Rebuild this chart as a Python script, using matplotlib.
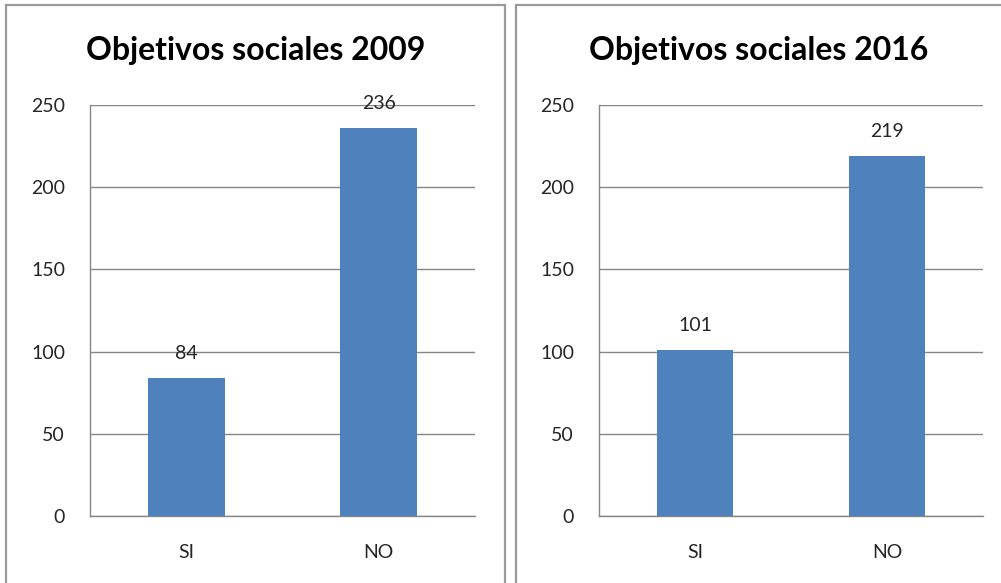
import matplotlib
matplotlib.use("Agg")
import matplotlib.pyplot as plt
from matplotlib.patches import Rectangle

categories = ["SI", "NO"]
values_2009 = [84, 236]
values_2016 = [101, 219]
titles = ["Objetivos sociales 2009", "Objetivos sociales 2016"]
yticks = [0, 50, 100, 150, 200, 250]

W, H = 1001, 583
fig = plt.figure(figsize=(W / 100, H / 100), dpi=100)
plt.rcParams['font.family'] = ['Lato', 'DejaVu Sans']

bar_color = "#4F81BD"
grid_color = "#868686"
border_color = "#9a9a9a"
text_color = "#262626"

def px_rect(x0, y0, x1, y1):
    return Rectangle((x0 / W, 1 - y1 / H), (x1 - x0) / W, (y1 - y0) / H,
                     transform=fig.transFigure, fill=False,
                     edgecolor=border_color, linewidth=1.6, zorder=0)

fig.patches.append(px_rect(6, 5, 505, 600))
fig.patches.append(px_rect(516, 5, 1010, 600))

axes_px = [(90, 475), (599, 983)]
top_px, bot_px = 105, 516
panel_centers = [(6 + 505) / 2, (516 + 1001) / 2]

for i, (vals, title) in enumerate(zip([values_2009, values_2016], titles)):
    x0, x1 = axes_px[i]
    ax = fig.add_axes([x0 / W, 1 - bot_px / H, (x1 - x0) / W, (bot_px - top_px) / H])
    bars = ax.bar(categories, vals, width=0.4, color=bar_color, zorder=3)
    ax.set_xlim(-0.5, 1.5)
    ax.set_ylim(0, 250)
    ax.set_yticks(yticks)
    ax.yaxis.grid(True, color=grid_color, linewidth=1.0, zorder=0)
    ax.set_axisbelow(True)
    for s in ["top", "right"]:
        ax.spines[s].set_visible(False)
    for s in ["left", "bottom"]:
        ax.spines[s].set_color(grid_color)
        ax.spines[s].set_linewidth(1.0)
    ax.tick_params(axis="both", length=0, labelsize=14, colors=text_color)
    ax.tick_params(axis="y", pad=18)
    ax.tick_params(axis="x", pad=20)
    for b, v in zip(bars, vals):
        ax.annotate(str(v), (b.get_x() + b.get_width() / 2, v),
                    xytext=(0, 13.5), textcoords="offset points",
                    ha="center", va="baseline", fontsize=14, color=text_color)
    fig.text(panel_centers[i] / W, 1 - 60 / H, title, ha="center", va="baseline",
             fontsize=23, fontweight="bold", color="black")

fig.savefig("out.png", dpi=100, facecolor="white")
